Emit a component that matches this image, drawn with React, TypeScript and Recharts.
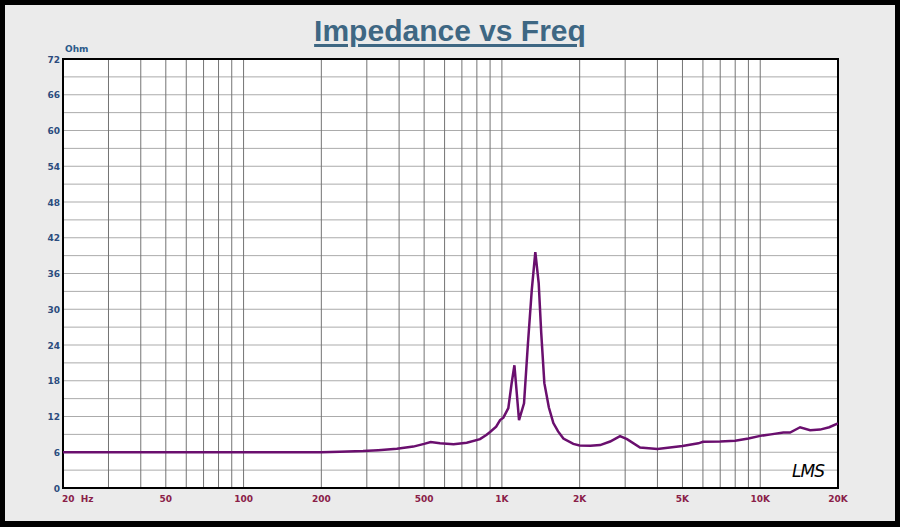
import React from "react";
import {
  LineChart,
  Line,
  XAxis,
  YAxis,
  CartesianGrid,
  ReferenceArea,
} from "recharts";

// impedance curve (Hz, Ohm)
const freqs = [
  20, 50, 100, 150, 200, 236, 290, 332, 392, 454, 500, 530, 576, 650, 731, 823,
  870, 900, 950, 984, 1013, 1059, 1090, 1118, 1165, 1218, 1260, 1305, 1347,
  1388, 1420, 1460, 1520, 1582, 1650, 1730, 1890, 2000, 2200, 2400, 2624, 2866,
  3050, 3426, 4000, 5000, 5764, 6000, 7000, 8000, 9000, 10000, 11000, 12290,
  13050, 14268, 15600, 17040, 18500, 20000,
];
const ohms = [
  6.0, 6.0, 6.0, 6.0, 6.0, 6.1, 6.2, 6.35, 6.6, 6.95, 7.4, 7.7, 7.5, 7.35, 7.6,
  8.2, 8.9, 9.4, 10.3, 11.4, 11.8, 13.4, 17.5, 20.6, 11.4, 14.2, 24, 33.2, 39.6,
  34.4, 26, 17.6, 13.5, 10.9, 9.5, 8.3, 7.4, 7.15, 7.1, 7.2, 7.8, 8.7, 8.2, 6.8,
  6.55, 7.05, 7.5, 7.75, 7.8, 7.95, 8.3, 8.75, 9.0, 9.3, 9.3, 10.2, 9.7, 9.8,
  10.2, 10.85,
];

const gridFreqs = [
  20, 30, 40, 50, 60, 70, 80, 90, 100, 200, 300, 400, 500, 600, 700, 800, 900,
  1000, 2000, 3000, 4000, 5000, 6000, 7000, 8000, 9000, 10000, 20000,
];
const freqLabels: Record<number, string> = {
  20: "20  Hz",
  50: "50",
  100: "100",
  200: "200",
  500: "500",
  1000: "1K",
  2000: "2K",
  5000: "5K",
  10000: "10K",
  20000: "20K",
};
const ohmTicks = [
  0, 3, 6, 9, 12, 15, 18, 21, 24, 27, 30, 33, 36, 39, 42, 45, 48, 51, 54, 57,
  60, 63, 66, 69, 72,
];

const data = freqs.map((f, i) => ({ f, ohm: ohms[i] }));

const tickFont = "'DejaVu Sans', Verdana, sans-serif";

const FreqTick = (props: any) => {
  const { x, payload } = props;
  const label = freqLabels[payload.value];
  if (!label) return null;
  const first = payload.value === 20;
  return (
    <text
      x={first ? x - 1 : x}
      y={502}
      textAnchor={first ? "start" : "middle"}
      fill="#8a2048"
      fontSize={9}
      fontWeight="bold"
      fontFamily={tickFont}
      style={{ whiteSpace: "pre" }}
    >
      {label}
    </text>
  );
};

const OhmTick = (props: any) => {
  const { y, payload } = props;
  if (payload.value % 6 !== 0) return null;
  return (
    <text
      x={60}
      y={y + 3.5}
      textAnchor="end"
      fill="#2b4c7e"
      fontSize={9}
      fontWeight="bold"
      fontFamily={tickFont}
    >
      {payload.value}
    </text>
  );
};

export default function App() {
  return (
    <div
      style={{
        position: "absolute",
        left: 0,
        top: 0,
        width: 900,
        height: 527,
        background: "#ebebeb",
        overflow: "hidden",
      }}
    >
      <div
        style={{
          position: "absolute",
          left: 0,
          top: 16,
          width: 900,
          textAlign: "center",
          fontFamily: "'Liberation Sans', Arial, sans-serif",
          fontWeight: "bold",
          fontSize: 30,
          lineHeight: "30px",
          color: "#3e6783",
          textDecoration: "underline",
          textDecorationThickness: 3,
          textUnderlineOffset: 3,
        }}
      >
        Impedance vs Freq
      </div>
      <div
        style={{
          position: "absolute",
          left: 65,
          top: 44,
          fontFamily: tickFont,
          fontWeight: "bold",
          fontSize: 9,
          color: "#2b5a8a",
        }}
      >
        Ohm
      </div>
      <div style={{ position: "absolute", left: 0, top: 0 }}>
        <LineChart
          width={900}
          height={527}
          data={data}
          margin={{ top: 59, right: 62, bottom: 9, left: 13 }}
        >
          <CartesianGrid
            vertical={false}
            stroke="#ababab"
            fill="#ffffff"
            fillOpacity={1}
          />
          <CartesianGrid horizontal={false} stroke="#747474" />
          <XAxis
            dataKey="f"
            type="number"
            scale="log"
            domain={[20, 20000]}
            ticks={gridFreqs}
            interval={0}
            tick={<FreqTick />}
            tickLine={false}
            axisLine={false}
            height={30}
            allowDataOverflow
          />
          <YAxis
            type="number"
            domain={[0, 72]}
            ticks={ohmTicks}
            interval={0}
            tick={<OhmTick />}
            tickLine={false}
            axisLine={false}
            width={50}
          />
          <Line
            type="linear"
            dataKey="ohm"
            stroke="#6a0f6e"
            strokeWidth={2.5}
            dot={false}
            isAnimationActive={false}
          />
          <ReferenceArea
            x1={20}
            x2={20000}
            y1={0}
            y2={72}
            fill="none"
            stroke="#000000"
            strokeWidth={2}
            ifOverflow="visible"
          />
        </LineChart>
      </div>
      <div
        style={{
          position: "absolute",
          left: 792,
          top: 461,
          fontFamily: "'DejaVu Sans', sans-serif",
          fontStyle: "italic",
          fontSize: 17,
          color: "#000",
          letterSpacing: -1,
        }}
      >
        LMS
      </div>
      <div
        style={{
          position: "absolute",
          left: 0,
          top: 0,
          width: 900,
          height: 527,
          boxSizing: "border-box",
          border: "5px solid #000",
          borderBottomWidth: 6,
          pointerEvents: "none",
        }}
      />
    </div>
  );
}
